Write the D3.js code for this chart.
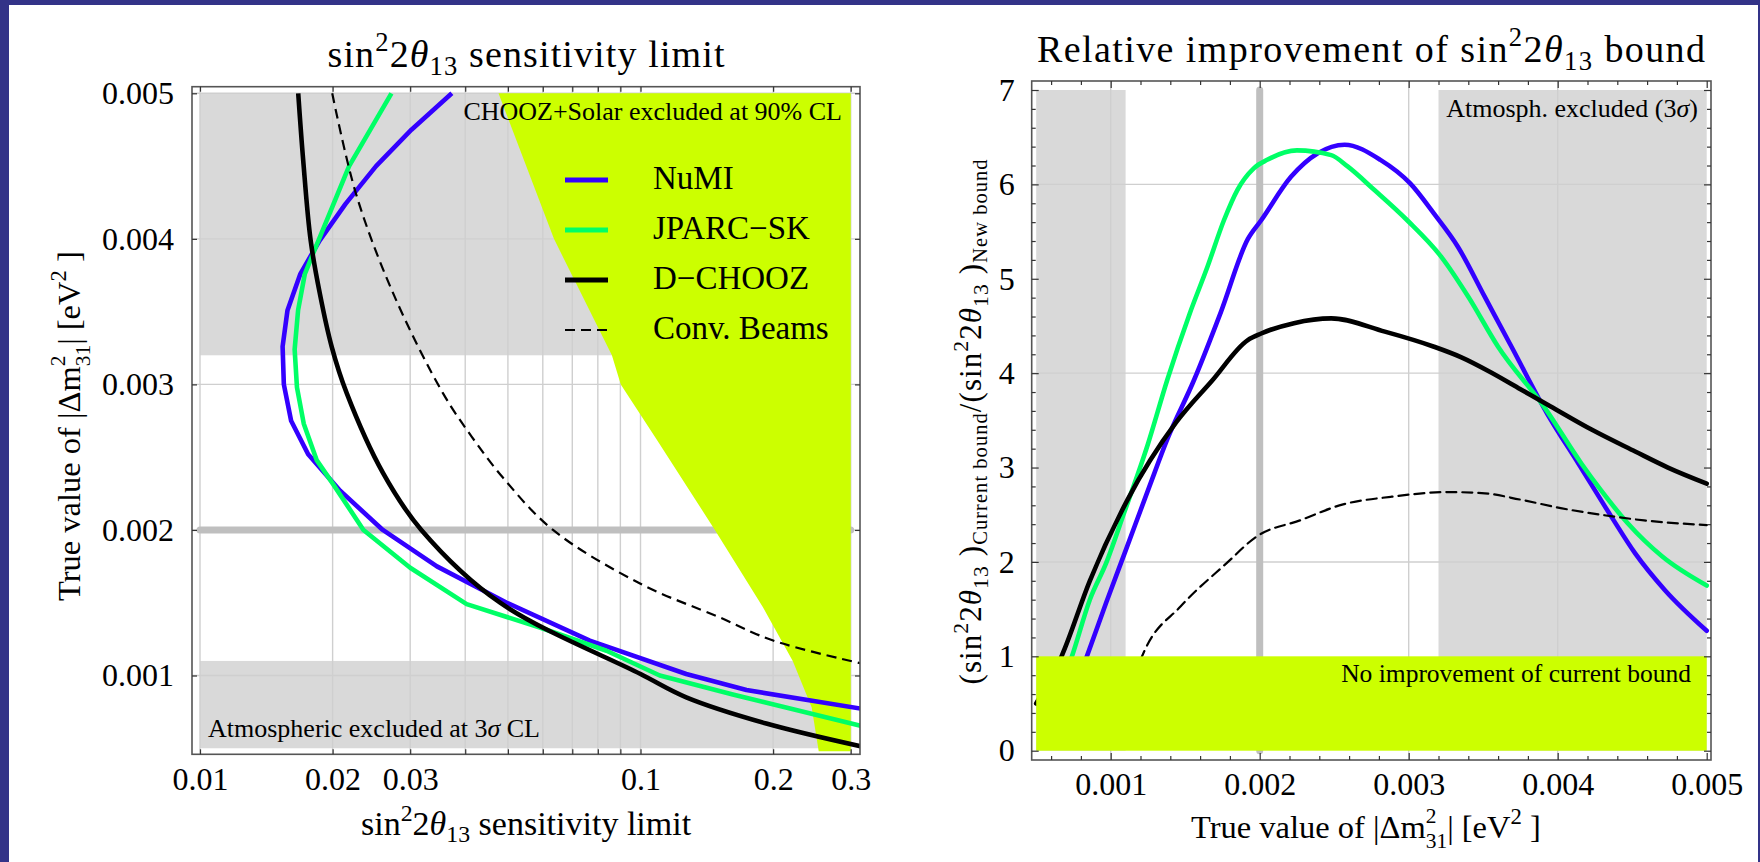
<!DOCTYPE html>
<html>
<head>
<meta charset="utf-8">
<script src="https://cdn.jsdelivr.net/npm/d3@7"></script>
<style>
  body { margin: 0; background: #333388; }
  svg { display: block; }
  text { font-family: "Liberation Serif", "Times New Roman", serif; fill: #000; }
</style>
</head>
<body>
<svg id="chart" width="1760" height="862"></svg>
<script>
// ---------------- data ----------------
const sensTicks = [0.01, 0.02, 0.03, 0.04, 0.05, 0.06, 0.07, 0.08, 0.09, 0.1, 0.2, 0.3];
const sensTickLabels = [0.01, 0.02, 0.03, 0.1, 0.2, 0.3];
const sensRange = [0.01, 0.3];
const dmTicks = [0.001, 0.002, 0.003, 0.004, 0.005];
const dmRange = [0.0005, 0.005];
const ratioTicks = [0, 1, 2, 3, 4, 5, 6, 7];
const ratioGrid = [2, 4, 6];
const dmGridRight = [0.001, 0.003, 0.004];
const referenceDm = 0.002;
const experiments = ["NuMI", "JPARC\u2212SK", "D\u2212CHOOZ", "Conv. Beams"];

// left panel: sin^2 2theta13 sensitivity limit [sens, true |dm31^2|]
const limitNuMI = [[0.0373,0.00500],[0.0302,0.00475],[0.0251,0.00450],[0.0214,0.00424],[0.0187,0.00399],
  [0.0169,0.00376],[0.0158,0.00351],[0.0154,0.00326],[0.0155,0.00300],[0.0161,0.00275],[0.0176,0.00252],
  [0.0208,0.00227],[0.0260,0.00200],[0.0345,0.00175],[0.0497,0.00150],[0.0767,0.00124],[0.127,0.00101],
  [0.174,0.00090],[0.32,0.00077]];
const limitJPARC = [[0.0272,0.00500],[0.0218,0.00450],[0.0201,0.00424],[0.0187,0.00401],[0.0173,0.00376],
  [0.0167,0.00351],[0.0164,0.00324],[0.0166,0.00298],[0.0172,0.00273],[0.0184,0.00248],[0.0200,0.00232],
  [0.0235,0.00200],[0.0300,0.00174],[0.0403,0.00149],[0.0591,0.00133],[0.0837,0.00117],[0.1106,0.00100],
  [0.162,0.00087],[0.32,0.00065]];
const limitDCHOOZ = [[0.01671,0.00500],[0.01715,0.00454],[0.01783,0.00399],[0.01872,0.00362],[0.0199,0.00326],
  [0.02153,0.00294],[0.02604,0.00239],[0.0318,0.00200],[0.048,0.00150],[0.100,0.00101],
  [0.127,0.00085],[0.193,0.00067],[0.32,0.00051]];
const limitConv = [[0.01996,0.00500],[0.0226,0.00431],[0.0275,0.00362],[0.0356,0.00294],[0.0414,0.00264],
  [0.0487,0.00236],[0.0633,0.00200],[0.100,0.00163],[0.151,0.00140],[0.200,0.00124],[0.32,0.00108]];
const solarExcluded = [[0.0476,0.00500],[0.0636,0.00400],[0.0861,0.00320],[0.0902,0.00300],[0.1089,0.00262],
  [0.1475,0.00200],[0.1895,0.00147],[0.2216,0.00110],[0.2447,0.00078],[0.2538,0.00048],[0.3,0.00048],[0.3,0.005]];
const atmBandsLeft = [[0.0032, 0.005], [0.0005, 0.0011]];

// right panel: relative improvement [true |dm31^2|, ratio]
const ratioNuMI = [[0.00072,0.50],[0.00084,1.00],[0.00097,1.57],[0.00110,2.12],[0.00126,2.80],[0.00138,3.30],
  [0.00156,3.93],[0.00174,4.65],[0.00192,5.42],[0.00201,5.62],[0.00221,6.08],[0.00239,6.33],[0.00257,6.42],
  [0.00281,6.26],[0.00301,6.01],[0.00317,5.69],[0.00333,5.34],[0.00351,4.81],[0.00369,4.28],[0.00393,3.57],
  [0.00414,3.04],[0.00436,2.48],[0.00452,2.09],[0.00472,1.70],[0.00500,1.27]];
const ratioJPARC = [[0.00062,0.50],[0.00074,1.00],[0.00086,1.60],[0.00097,1.99],[0.00109,2.52],[0.00125,3.25],
  [0.00138,3.93],[0.00153,4.63],[0.00165,5.13],[0.00176,5.62],[0.00185,5.94],[0.00196,6.17],[0.00205,6.26],
  [0.00225,6.36],[0.00248,6.31],[0.00259,6.19],[0.00277,5.94],[0.00299,5.62],[0.00322,5.23],[0.00340,4.81],
  [0.00360,4.28],[0.00391,3.64],[0.00416,3.04],[0.00429,2.76],[0.00447,2.41],[0.00470,2.06],[0.00500,1.75]];
const ratioDCHOOZ = [[0.00050,0.50],[0.00067,1.00],[0.00086,1.80],[0.00111,2.65],[0.00144,3.48],
  [0.00168,3.92],[0.00192,4.35],[0.00201,4.42],[0.00223,4.53],[0.00248,4.58],[0.00284,4.44],[0.00317,4.28],
  [0.00335,4.17],[0.00355,4.01],[0.00375,3.83],[0.00395,3.65],[0.00423,3.40],[0.00452,3.17],[0.00474,3.00],
  [0.00500,2.83]];
const ratioConv = [[0.00116,0.80],[0.00123,1.07],[0.00147,1.53],[0.00178,1.99],[0.00198,2.27],[0.00227,2.44],
  [0.00256,2.61],[0.00288,2.69],[0.00326,2.74],[0.00349,2.73],[0.00375,2.66],[0.00402,2.57],[0.00429,2.50],
  [0.00458,2.44],[0.00500,2.39]];
const atmBandsRight = [[0.0005, 0.0011], [0.0032, 0.005]];
const ratioRange = [0, 7];
const noImprovement = [0, 1];

// ---------------- styles ----------------
const SERIF = '"Liberation Serif", "Times New Roman", serif';
const seriesStyle = [
  { color: "#3300ff", width: 4.6, dash: null },
  { color: "#00ff66", width: 4.6, dash: null },
  { color: "#000000", width: 4.6, dash: null },
  { color: "#000000", width: 2.2, dash: "10,6" }
];
const GRAY_BAND = "#d9d9d9", GRID = "#cfcfcf", THICK = "#bfbfbf", YELLOW = "#ccff00";

const svg = d3.select("#chart");
svg.append("rect").attr("width", 1760).attr("height", 862).attr("fill", "#333388");
svg.append("rect").attr("x", 9).attr("y", 5).attr("width", 1749).attr("height", 857).attr("fill", "#ffffff");
const defs = svg.append("defs");

// text with super/subscripts
function richText(parent, parts, size) {
  const t = parent.append("text").attr("font-size", size);
  let off = 0;
  parts.forEach(p => {
    const shift = p.sup ? (p.shift != null ? p.shift : -0.42) * size
      : p.sub ? (p.shift != null ? p.shift : 0.22) * size : 0;
    const ts = t.append("tspan").text(p.t).attr("dy", shift - off);
    off = shift;
    if (p.sup || p.sub) ts.attr("font-size", (p.fs || 0.7) * size);
    if (p.it) ts.attr("font-style", "italic");
    if (p.dx) ts.attr("dx", p.dx * size);
  });
  return t;
}
// spread glyphs so the label covers the given width
function spread(t, width) {
  const node = t.node();
  const n = node.getNumberOfChars();
  const w = node.getComputedTextLength();
  t.attr("letter-spacing", Math.max(0, (width - w) / (n - 1)));
}
function label(parent, parts, size, cx, baseline, width) {
  const t = richText(parent, parts, size);
  spread(t, width);
  t.attr("x", cx - width / 2).attr("y", baseline);
  return t;
}
function vlabel(parent, parts, size, bx, cy, width) {
  const g = parent.append("g").attr("transform", `translate(${bx},${cy}) rotate(-90)`);
  const t = richText(g, parts, size);
  spread(t, width);
  t.attr("x", -width / 2).attr("y", 0);
  return t;
}
function styleAxis(g, size) {
  g.select(".domain").remove();
  g.attr("font-family", SERIF).attr("font-size", size);
  g.selectAll(".tick line").attr("stroke", "#333").attr("stroke-width", 1.2);
  g.selectAll(".tick text").attr("fill", "#000").attr("font-family", SERIF).attr("font-size", size);
}

const sinParts = [{ t: "sin" }, { t: "2", sup: 1 }, { t: "2" }, { t: "\u03b8", it: 1 }, { t: "13", sub: 1 }];
const dmLabelParts = [{ t: "True value of |\u0394m" }, { t: "2", sup: 1, fs: 0.66, shift: -0.46 },
  { t: "31", sub: 1, fs: 0.66, shift: 0.3, dx: -0.33 }, { t: "| [eV" }, { t: "2", sup: 1 }, { t: " ]" }];
const fmt = d3.format("~g");

// ================= left panel =================
const L = { x0: 192, x1: 860, y0: 86.7, y1: 754.3 };
const xL = d3.scaleLog().domain([0.01, 0.3]).range([200, 850.7]);
const yL = d3.scaleLinear().domain([0.001, 0.005]).range([675.5, 93.3]);
const gL = svg.append("g");
defs.append("clipPath").attr("id", "clipL").append("rect")
  .attr("x", L.x0).attr("y", L.y0).attr("width", L.x1 - L.x0).attr("height", L.y1 - L.y0);

gL.selectAll("rect.band").data(atmBandsLeft).join("rect")
  .attr("x", xL(sensRange[0])).attr("width", xL(sensRange[1]) - xL(sensRange[0]))
  .attr("y", d => yL(d[1])).attr("height", d => yL(d[0]) - yL(d[1])).attr("fill", GRAY_BAND);

gL.selectAll("line.vgrid").data(sensTicks).join("line")
  .attr("x1", d => xL(d)).attr("x2", d => xL(d)).attr("y1", L.y0).attr("y2", L.y1)
  .attr("stroke", GRID).attr("stroke-width", 1.4);
gL.selectAll("line.hgrid").data(dmTicks).join("line")
  .attr("x1", L.x0).attr("x2", L.x1).attr("y1", d => yL(d)).attr("y2", d => yL(d))
  .attr("stroke", GRID).attr("stroke-width", 1.4);

gL.append("line").attr("x1", xL(sensRange[0])).attr("x2", xL(sensRange[1]))
  .attr("y1", yL(referenceDm)).attr("y2", yL(referenceDm))
  .attr("stroke", THICK).attr("stroke-width", 7).attr("stroke-linecap", "round");

const lineL = d3.line().x(d => xL(d[0])).y(d => yL(d[1]));
gL.append("path").attr("d", lineL(solarExcluded) + "Z").attr("fill", YELLOW);

const curvesL = gL.append("g").attr("clip-path", "url(#clipL)");
[limitNuMI, limitJPARC, limitDCHOOZ, limitConv].forEach((data, i) => {
  const s = seriesStyle[i];
  const gen = d3.line().x(d => xL(d[0])).y(d => yL(d[1]))
    .curve(i < 2 ? d3.curveLinear : d3.curveCatmullRom.alpha(0.5));
  curvesL.append("path").attr("d", gen(data)).attr("fill", "none")
    .attr("stroke", s.color).attr("stroke-width", s.width)
    .attr("stroke-dasharray", s.dash).attr("stroke-linejoin", "round").attr("stroke-linecap", "butt");
});

// region captions
gL.append("text").attr("x", 842).attr("y", 120).attr("text-anchor", "end").attr("font-size", 26)
  .text("CHOOZ+Solar excluded at 90% CL");
const atmL = gL.append("text").attr("x", 208).attr("y", 737).attr("font-size", 26);
atmL.append("tspan").text("Atmospheric excluded at 3");
atmL.append("tspan").attr("font-style", "italic").text("\u03c3");
atmL.append("tspan").text(" CL");

// legend
const legend = gL.append("g");
experiments.forEach((name, i) => {
  const s = seriesStyle[i];
  const y = 180 + i * 50;
  legend.append("line").attr("x1", 565).attr("x2", 608).attr("y1", y).attr("y2", y)
    .attr("stroke", s.color).attr("stroke-width", s.dash ? 2.2 : 5).attr("stroke-dasharray", s.dash);
  legend.append("text").attr("x", 653).attr("y", y + 9).attr("font-size", 33).text(name);
});

// frame and axes
gL.append("rect").attr("x", L.x0).attr("y", L.y0).attr("width", L.x1 - L.x0).attr("height", L.y1 - L.y0)
  .attr("fill", "none").attr("stroke", "#555").attr("stroke-width", 1.6);
gL.append("g").attr("transform", `translate(0,${L.y1})`)
  .call(d3.axisBottom(xL).tickValues(sensTicks).tickSize(-5).tickPadding(13)
    .tickFormat(d => sensTickLabels.includes(d) ? fmt(d) : ""))
  .call(g => styleAxis(g, 32));
gL.append("g").attr("transform", `translate(0,${L.y0})`)
  .call(d3.axisTop(xL).tickValues(sensTicks).tickSize(-5).tickFormat(""))
  .call(g => styleAxis(g, 32));
gL.append("g").attr("transform", `translate(${L.x0},0)`)
  .call(d3.axisLeft(yL).tickValues(dmTicks).tickSize(-5).tickPadding(18).tickFormat(fmt))
  .call(g => styleAxis(g, 32));
gL.append("g").attr("transform", `translate(${L.x1},0)`)
  .call(d3.axisRight(yL).tickValues(dmTicks).tickSize(-5).tickFormat(""))
  .call(g => styleAxis(g, 32));

label(gL, [...sinParts, { t: " sensitivity limit" }], 38, 526, 66.7, 397);
label(gL, [...sinParts, { t: " sensitivity limit" }], 34, 526, 835, 330);
vlabel(gL, dmLabelParts, 32.5, 80, 421, 360);

// ================= right panel =================
const R = { x0: 1031.7, x1: 1711, y0: 81, y1: 760 };
const xR = d3.scaleLinear().domain([0.001, 0.005]).range([1110.7, 1706.7]);
const yR = d3.scaleLinear().domain([0, 7]).range([750.7, 90]);
const gR = svg.append("g");
defs.append("clipPath").attr("id", "clipR").append("rect")
  .attr("x", R.x0).attr("y", R.y0).attr("width", R.x1 - R.x0).attr("height", R.y1 - R.y0);

gR.selectAll("rect.band").data(atmBandsRight).join("rect")
  .attr("x", d => xR(d[0])).attr("width", d => xR(d[1]) - xR(d[0]))
  .attr("y", yR(ratioRange[1])).attr("height", yR(ratioRange[0]) - yR(ratioRange[1])).attr("fill", GRAY_BAND);

gR.selectAll("line.vgrid").data(dmGridRight).join("line")
  .attr("x1", d => xR(d)).attr("x2", d => xR(d)).attr("y1", R.y0).attr("y2", R.y1)
  .attr("stroke", GRID).attr("stroke-width", 1.4);
gR.selectAll("line.hgrid").data(ratioGrid).join("line")
  .attr("x1", R.x0).attr("x2", R.x1).attr("y1", d => yR(d)).attr("y2", d => yR(d))
  .attr("stroke", GRID).attr("stroke-width", 1.4);

gR.append("line").attr("x1", xR(referenceDm)).attr("x2", xR(referenceDm))
  .attr("y1", yR(ratioRange[0])).attr("y2", yR(ratioRange[1]))
  .attr("stroke", THICK).attr("stroke-width", 7).attr("stroke-linecap", "round");

const curvesR = gR.append("g").attr("clip-path", "url(#clipR)");
[ratioNuMI, ratioJPARC, ratioDCHOOZ, ratioConv].forEach((data, i) => {
  const s = seriesStyle[i];
  const gen = d3.line().x(d => xR(d[0])).y(d => yR(d[1])).curve(d3.curveMonotoneX);
  curvesR.append("path").attr("d", gen(data)).attr("fill", "none")
    .attr("stroke", s.color).attr("stroke-width", s.width)
    .attr("stroke-dasharray", s.dash).attr("stroke-linejoin", "round").attr("stroke-linecap", "round");
});

gR.append("rect").attr("x", xR(dmRange[0])).attr("width", xR(dmRange[1]) - xR(dmRange[0]))
  .attr("y", yR(noImprovement[1])).attr("height", yR(noImprovement[0]) - yR(noImprovement[1]))
  .attr("fill", YELLOW);

gR.append("text").attr("x", 1691).attr("y", 681.7).attr("text-anchor", "end").attr("font-size", 25.5)
  .text("No improvement of current bound");
const atmR = gR.append("text").attr("x", 1698).attr("y", 116.7).attr("text-anchor", "end").attr("font-size", 26);
atmR.append("tspan").text("Atmosph. excluded (3");
atmR.append("tspan").attr("font-style", "italic").text("\u03c3");
atmR.append("tspan").text(")");

gR.append("rect").attr("x", R.x0).attr("y", R.y0).attr("width", R.x1 - R.x0).attr("height", R.y1 - R.y0)
  .attr("fill", "none").attr("stroke", "#555").attr("stroke-width", 1.6);

const dmMinor = d3.range(6, 50, 2).map(v => v / 10000).filter(v => !dmTicks.some(t => Math.abs(t - v) < 1e-9));
const ratioMinor = d3.range(1, 35).map(v => v / 5).filter(v => v % 1 !== 0);
gR.append("g").attr("transform", `translate(0,${R.y1})`)
  .call(d3.axisBottom(xR).tickValues(dmTicks).tickSize(-7).tickPadding(12).tickFormat(fmt))
  .call(g => styleAxis(g, 32));
gR.append("g").attr("transform", `translate(0,${R.y1})`)
  .call(d3.axisBottom(xR).tickValues(dmMinor).tickSize(-4).tickFormat(""))
  .call(g => styleAxis(g, 32));
gR.append("g").attr("transform", `translate(0,${R.y0})`)
  .call(d3.axisTop(xR).tickValues(dmTicks).tickSize(-7).tickFormat(""))
  .call(g => styleAxis(g, 32));
gR.append("g").attr("transform", `translate(0,${R.y0})`)
  .call(d3.axisTop(xR).tickValues(dmMinor).tickSize(-4).tickFormat(""))
  .call(g => styleAxis(g, 32));
gR.append("g").attr("transform", `translate(${R.x0},0)`)
  .call(d3.axisLeft(yR).tickValues(ratioTicks).tickSize(-7).tickPadding(17).tickFormat(fmt))
  .call(g => styleAxis(g, 32));
gR.append("g").attr("transform", `translate(${R.x0},0)`)
  .call(d3.axisLeft(yR).tickValues(ratioMinor).tickSize(-4).tickFormat(""))
  .call(g => styleAxis(g, 32));
gR.append("g").attr("transform", `translate(${R.x1},0)`)
  .call(d3.axisRight(yR).tickValues(ratioTicks).tickSize(-7).tickFormat(""))
  .call(g => styleAxis(g, 32));
gR.append("g").attr("transform", `translate(${R.x1},0)`)
  .call(d3.axisRight(yR).tickValues(ratioMinor).tickSize(-4).tickFormat(""))
  .call(g => styleAxis(g, 32));

label(gR, [{ t: "Relative improvement of " }, ...sinParts, { t: " bound" }], 38, 1371, 62, 668);
label(gR, dmLabelParts, 32.5, 1371, 838, 360);
vlabel(gR, [{ t: "(" }, ...sinParts, { t: " )" }, { t: "Current bound", sub: 1, fs: 0.66, shift: 0.18 },
  { t: "/(" }, ...sinParts, { t: " )" }, { t: "New bound", sub: 1, fs: 0.66, shift: 0.18 }], 31, 981, 422, 525);
</script>
</body>
</html>
